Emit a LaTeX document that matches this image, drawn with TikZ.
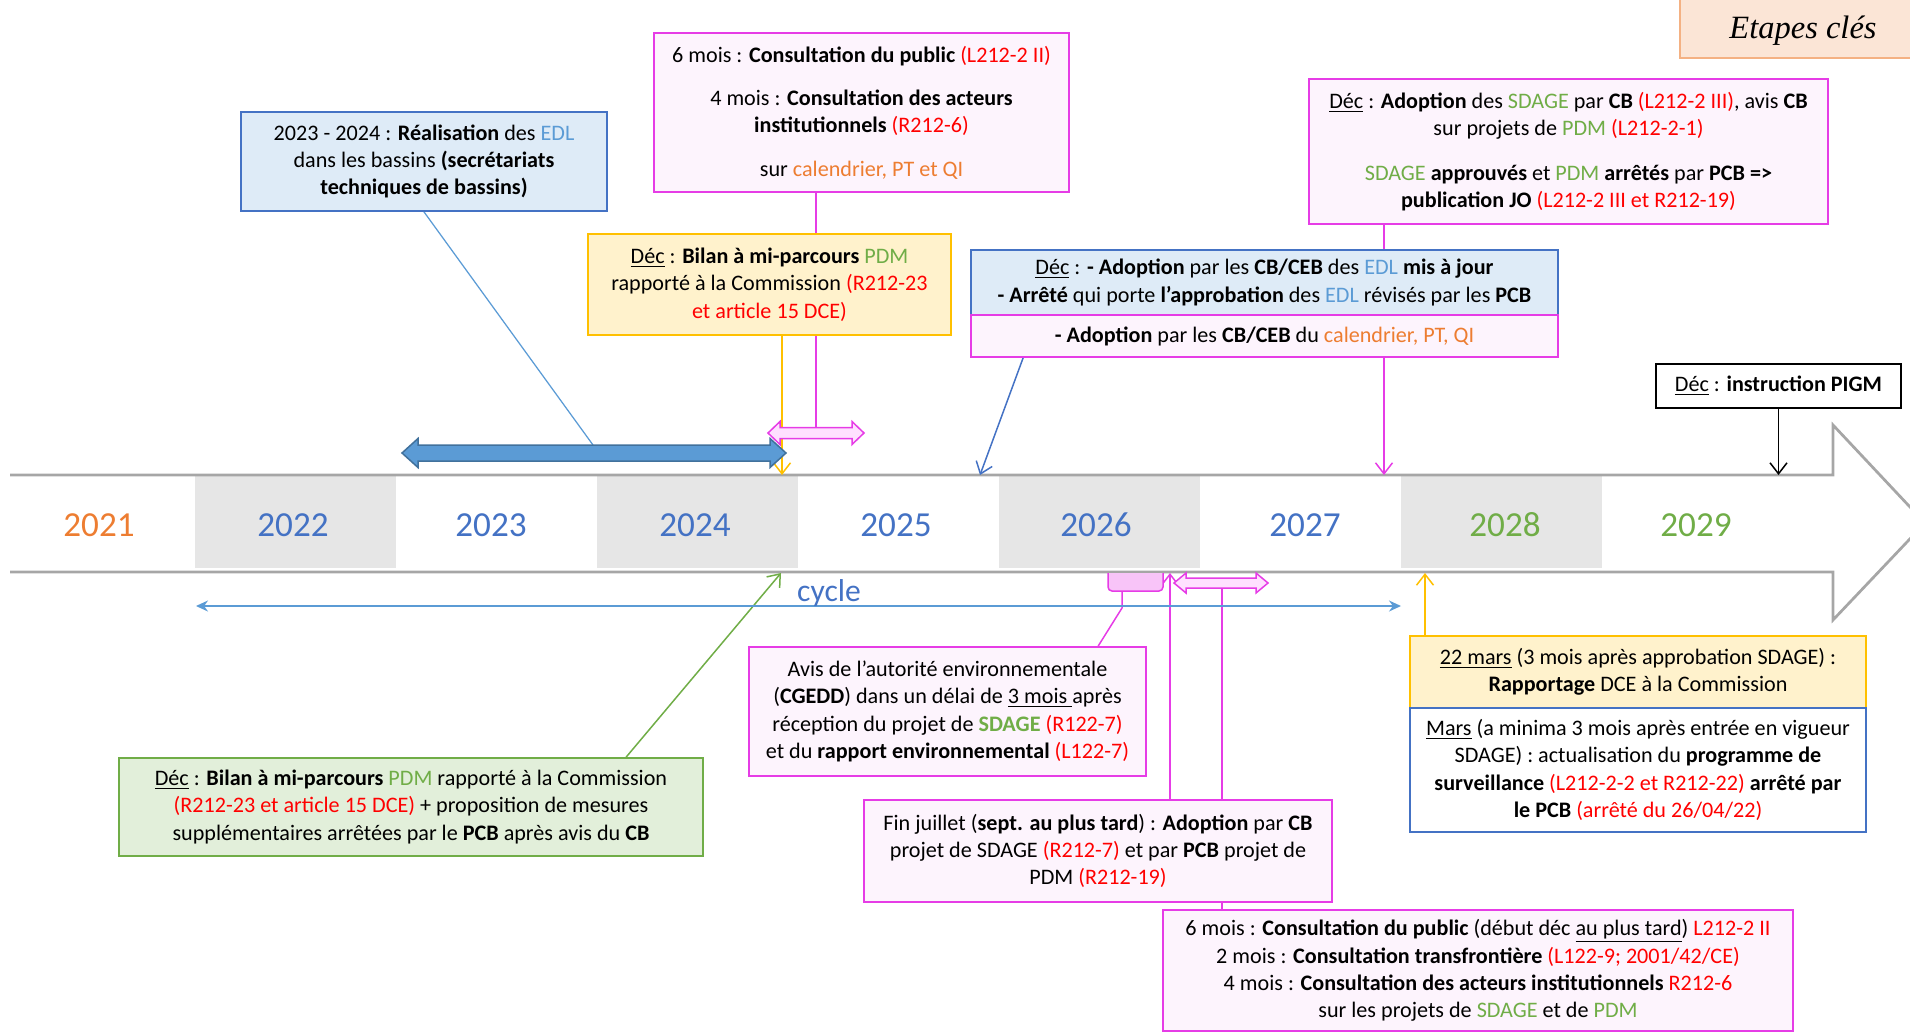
\documentclass[tikz,border=0pt]{standalone}
\usepackage{fontspec}
\setmainfont{Carlito}
\newfontfamily\titlefont{Liberation Serif}
\usetikzlibrary{arrows.meta,backgrounds}

\definecolor{txtred}{HTML}{FF0000}
\definecolor{txtgreen}{HTML}{70AD47}
\definecolor{txtblue}{HTML}{4472C4}
\definecolor{edlblue}{HTML}{5B9BD5}
\definecolor{txtorange}{HTML}{ED7D31}
\definecolor{magline}{HTML}{E63CE6}
\definecolor{pinkfill}{HTML}{FDF4FD}
\definecolor{bluefill}{HTML}{DEEBF7}
\definecolor{yellowfill}{HTML}{FFF2CC}
\definecolor{yellowline}{HTML}{FFC000}
\definecolor{greenfill}{HTML}{E2EFDA}
\definecolor{peachfill}{HTML}{FBE5D6}
\definecolor{peachline}{HTML}{F4B183}
\definecolor{cellgrey}{HTML}{E6E6E6}
\definecolor{bandgrey}{HTML}{A6A6A6}
\definecolor{arrowedge}{HTML}{41719C}
\definecolor{pinkarrow}{HTML}{FFE0FF}

\newcommand{\rref}[1]{\textcolor{txtred}{#1}}
\newcommand{\gtxt}[1]{\textcolor{txtgreen}{#1}}
\newcommand{\otxt}[1]{\textcolor{txtorange}{#1}}
\newcommand{\edlw}{\textcolor{edlblue}{EDL}}
\newcommand{\decw}{\underline{Déc}}

\begin{document}
\begin{tikzpicture}[x=0.2mm, y=-0.2mm,
  every node/.style={font=\fontsize{12.6}{15.6}\selectfont},
  box/.style={draw, line width=0.35mm, align=center, inner sep=0pt},
  pinkbox/.style={box, draw=magline, fill=pinkfill},
  bluebox/.style={box, draw=txtblue, fill=bluefill},
  yellowbox/.style={box, draw=yellowline, fill=yellowfill},
  greenbox/.style={box, draw=txtgreen, fill=greenfill},
  plainbox/.style={box, draw=black, fill=white},
  yearlabel/.style={font=\fontsize{20}{24}\selectfont},
  link/.style={line width=0.3mm, -{Straight Barb[length=2.2mm, width=3.4mm]}},
  plainlink/.style={line width=0.3mm},
  pinkblock/.style={fill=pinkarrow, draw=magline, line width=0.3mm},
  blueblock/.style={fill=edlblue, draw=arrowedge, line width=0.3mm}]
  \useasboundingbox (0,0) rectangle (1910,1033);

  % boxes above the timeline
  \node[bluebox, minimum width=73.2mm, minimum height=19.8mm] (edl) at (424,161.5)
    {2023 - 2024 : \textbf{Réalisation} des \edlw\\ dans les bassins \textbf{(secrétariats}\\ \textbf{techniques de bassins)}};
  \node[pinkbox, minimum width=83mm, minimum height=31.8mm] (consult) at (861.5,112.5)
    {6 mois : \textbf{Consultation du public} \rref{(L212-2 II)}\\[3.2mm]
     4 mois : \textbf{Consultation des acteurs}\\ \textbf{institutionnels} \rref{(R212-6)}\\[3.2mm]
     sur \otxt{calendrier, PT et QI}};
  \node[yellowbox, minimum width=72.6mm, minimum height=20.2mm] (bilan) at (769.5,284.5)
    {\decw{} : \textbf{Bilan à mi-parcours} \gtxt{PDM}\\ rapporté à la Commission \rref{(R212-23}\\ \rref{et article 15 DCE)}};
  \node[bluebox, minimum width=117.4mm, minimum height=13mm] (adoptblue) at (1264.5,282.5)
    {\decw{} : \textbf{- Adoption} par les \textbf{CB/CEB} des \edlw{} \textbf{mis à jour}\\
     \textbf{- Arrêté} qui porte \textbf{l’approbation} des \edlw{} révisés par les \textbf{PCB}};
  \node[pinkbox, minimum width=117.4mm, minimum height=8.4mm] (adoptpink) at (1264.5,336)
    {\textbf{- Adoption} par les \textbf{CB/CEB} du \otxt{calendrier, PT, QI}};
  \node[pinkbox, minimum width=103.8mm, minimum height=29mm] (sdage) at (1568.5,151.5)
    {\decw{} : \textbf{Adoption} des \gtxt{SDAGE} par \textbf{CB} \rref{(L212-2 III)}, avis \textbf{CB}\\
     sur projets de \gtxt{PDM} \rref{(L212-2-1)}\\[3.4mm]
     \gtxt{SDAGE} \textbf{approuvés} et \gtxt{PDM} \textbf{arrêtés} par \textbf{PCB =>}\\
     \textbf{publication JO} \rref{(L212-2 III et R212-19)}};
  \node[font=\titlefont\itshape\fontsize{18.5}{22}\selectfont] (etapes) at (1803,31) {Etapes clés};
  \node[plainbox, minimum width=49mm, minimum height=8.8mm] (pigm) at (1778.5,386)
    {\decw{} : \textbf{instruction PIGM}};

  % boxes below the timeline
  \node[greenbox, minimum width=116.8mm, minimum height=19.6mm] (green) at (411,807)
    {\decw{} : \textbf{Bilan à mi-parcours} \gtxt{PDM} rapporté à la Commission\\
     \rref{(R212-23 et article 15 DCE)} + proposition de mesures\\
     supplémentaires arrêtées par le \textbf{PCB} après avis du \textbf{CB}};
  \node[pinkbox, minimum width=79.4mm, minimum height=25.8mm] (avis) at (947.5,711.5)
    {Avis de l’autorité environnementale\\
     (\textbf{CGEDD}) dans un délai de \underline{3 mois\ }après\\
     réception du projet de \textbf{\gtxt{SDAGE}} \rref{(R122-7)}\\
     et du \textbf{rapport environnemental} \rref{(L122-7)}};
  \node[pinkbox, minimum width=93.6mm, minimum height=20.4mm] (fin) at (1098,851)
    {Fin juillet (\textbf{sept. au plus tard}) : \textbf{Adoption} par \textbf{CB}\\
     projet de SDAGE \rref{(R212-7)} et par \textbf{PCB} projet de\\
     PDM \rref{(R212-19)}};
  \node[pinkbox, minimum width=126mm, minimum height=24.2mm] (six) at (1478,970.5)
    {6 mois : \textbf{Consultation du public} (début déc \underline{au plus tard}) \rref{L212-2 II}\\
     2 mois : \textbf{Consultation transfrontière} \rref{(L122-9; 2001/42/CE)}\\
     4 mois : \textbf{Consultation des acteurs institutionnels} \rref{R212-6}\\
     sur les projets de \gtxt{SDAGE} et de \gtxt{PDM}};
  \node[yellowbox, minimum width=91.2mm, minimum height=14.4mm] (mars22) at (1638,672)
    {\underline{22 mars} (3 mois après approbation SDAGE) :\\ \textbf{Rapportage} DCE à la Commission};
  \node[box, draw=txtblue, fill=white, minimum width=91.2mm, minimum height=24.8mm] (mars) at (1638,770)
    {\underline{Mars} (a minima 3 mois après entrée en vigueur\\
     SDAGE) : actualisation du \textbf{programme de}\\
     \textbf{surveillance} \rref{(L212-2-2 et R212-22)} \textbf{arrêté par}\\
     \textbf{le PCB} \rref{(arrêté du 26/04/22)}};

  \begin{scope}[on background layer]
    \filldraw[fill=peachfill, draw=peachline, line width=0.4mm] (1680,-10) rectangle (1925,58);
    % timeline
    \foreach \i in {0,...,3}
      \fill[cellgrey] (195+402*\i,476) rectangle (396+402*\i,568);
    \draw[bandgrey, line width=0.55mm] (10,475) -- (1833,475) -- (1833,425) -- (1925,523)
      -- (1833,620) -- (1833,572) -- (10,572);
    \foreach \yr/\cx/\col in {2021/99/txtorange, 2022/293/txtblue, 2023/491/txtblue,
        2024/695/txtblue, 2025/896/txtblue, 2026/1096/txtblue, 2027/1305/txtblue,
        2028/1505/txtgreen, 2029/1696/txtgreen}
      \node[yearlabel, text=\col] (y\yr) at (\cx,525) {\yr};

    \coordinate (edltip) at (593,445);
    \coordinate (pinktop) at (816,427.5);
    \coordinate (t2024) at (782,475);
    \coordinate (t2025) at (980,475);
    \coordinate (t2027) at (1384,475);
    \coordinate (t2029) at (1778.5,475);
    \coordinate (b2024) at (781,573);
    \coordinate (b2026) at (1170,573);
    \coordinate (b2028) at (1425,573);
    \coordinate (lowarrow) at (1222,588);
    \coordinate (bendavis) at (1122,608);
    \coordinate (bracket) at (1122,591);
    \coordinate (cycleleft) at (196,606);
    \coordinate (cycleright) at (1401,606);

    % connectors
    \draw[plainlink, edlblue, line width=0.25mm] (edl.south) -- (edltip);
    \draw[plainlink, magline] (consult.south -| pinktop) -- (pinktop);
    \draw[link, yellowline] (bilan.south -| t2024) -- (t2024);
    \draw[link, txtblue] ([xshift=10.6mm]adoptpink.south west) -- (t2025);
    \draw[link, magline] (sdage.south -| t2027) -- (t2027);
    \draw[link, black] (pigm.south) -- (t2029);
    \draw[link, txtgreen] ([xshift=101.6mm]green.north west) -- (b2024);
    \draw[link, yellowline] (mars22.north -| b2028) -- (b2028);
    \draw[link, magline] (fin.north -| b2026) -- (b2026);
    \draw[plainlink, magline] (six.north -| lowarrow) -- (lowarrow);
    \draw[plainlink, magline] ([xshift=70mm]avis.north west) -- (bendavis) -- (bracket);
    \draw[edlblue, line width=0.3mm, {Stealth[length=2.4mm, width=2.2mm]}-{Stealth[length=2.4mm, width=2.2mm]}]
      (cycleleft) -- (cycleright);
    \node[text=txtblue, font=\fontsize{18}{20}\selectfont] (cycle) at (829,593) {cycle};

    % block arrows
    \filldraw[blueblock] (402,453) -- (418,438.5) -- (418,445) -- (770,445) -- (770,438.5) -- (786,453)
      -- (770,467.5) -- (770,461) -- (418,461) -- (418,467.5) -- cycle;
    \filldraw[pinkblock] (768,433) -- (780,421.5) -- (780,427.5) -- (852,427.5) -- (852,421.5) -- (864,433)
      -- (852,444.5) -- (852,438.5) -- (780,438.5) -- (780,444.5) -- cycle;
    \filldraw[pinkblock] (1174,583) -- (1186,573) -- (1186,578) -- (1256,578) -- (1256,573) -- (1268,583)
      -- (1256,593) -- (1256,588) -- (1186,588) -- (1186,593) -- cycle;
    \filldraw[fill=magline!30, draw=magline, line width=0.3mm, rounded corners=0.8mm]
      (1108,573) -- (1108,591) -- (1163,591) -- (1163,573);
  \end{scope}
\end{tikzpicture}
\end{document}
